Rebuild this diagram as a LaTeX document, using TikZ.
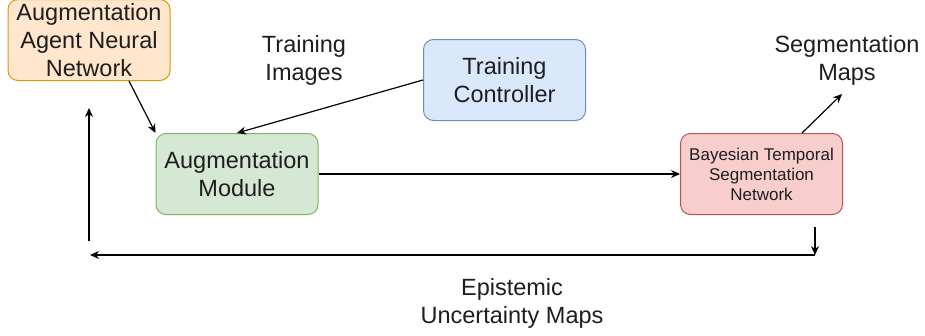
\documentclass[tikz,border=0pt]{standalone}
\usepackage{fontspec}
\setmainfont{Liberation Sans}
\usepackage{xcolor}
\usetikzlibrary{arrows.meta,positioning}
\definecolor{txt}{HTML}{1E1E1E}
\definecolor{agentfill}{HTML}{FFE6CC}
\definecolor{agentdraw}{HTML}{D79B00}
\definecolor{ctrlfill}{HTML}{DAE8FC}
\definecolor{ctrldraw}{HTML}{6C8EBF}
\definecolor{augfill}{HTML}{D5E8D4}
\definecolor{augdraw}{HTML}{82B366}
\definecolor{bayesfill}{HTML}{F8CECC}
\definecolor{bayesdraw}{HTML}{B85450}
\tikzset{
  box/.style={rounded corners=10pt, line width=1pt, minimum width=162pt,
    minimum height=81pt, align=center, text=txt, inner sep=2pt,
    font=\fontsize{23.5}{28}\selectfont},
  flow/.style={-{Stealth[length=9pt,width=8pt]}, draw=black, line width=1.2pt},
  lab/.style={text=txt, align=center, font=\fontsize{23.5}{28}\selectfont}
}
\begin{document}
\begin{tikzpicture}[x=1pt,y=-1pt]
  \useasboundingbox (0,0) rectangle (925,335);

  \node[box, fill=agentfill, draw=agentdraw] (agent) at (89,40) {Augmentation\\Agent Neural\\Network};
  \node[box, fill=ctrlfill, draw=ctrldraw] (ctrl) at (504.5,80) {Training\\Controller};
  \node[box, fill=augfill, draw=augdraw] (augm) at (237,174) {Augmentation\\Module};
  \node[box, fill=bayesfill, draw=bayesdraw, font=\fontsize{17}{20}\selectfont] (bayes) at (761.5,174)
    {Bayesian Temporal\\Segmentation\\Network};

  \node[lab] (imgs) at (304,60) {Training\\Images};
  \node[lab] (segmaps) at (847,60) {Segmentation\\Maps};
  \node[lab] (epist) at (512,303) {Epistemic\\Uncertainty Maps};

  % free ends of the feedback loop
  \coordinate (segtip) at (842,94);
  \coordinate (fbtop) at (815,227);
  \coordinate (fbturn) at (815,255);
  \coordinate (fbend) at (90,255);
  \coordinate (uplow) at (89,241);
  \coordinate (uphigh) at (89,108);

  \draw[flow] (agent.south -| 129,0) -- (augm.north west);
  \draw[flow] (ctrl.west) -- (augm.north);
  \draw[flow] (augm.east) -- (bayes.west);
  \draw[flow] (bayes.north -| 802,0) -- (segtip);

  \draw[flow] (fbtop) -- (fbturn);
  \draw[flow] (fbturn) -- (fbend);
  \draw[flow] (uplow) -- (uphigh);
\end{tikzpicture}
\end{document}
